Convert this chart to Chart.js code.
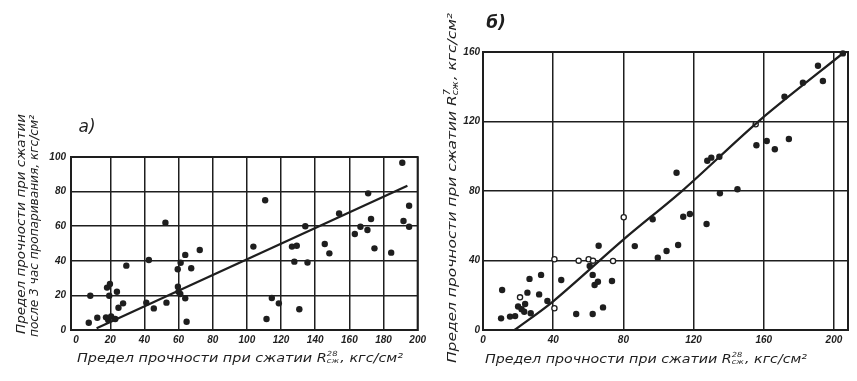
<!DOCTYPE html>
<html><head><meta charset="utf-8">
<script src="https://cdn.jsdelivr.net/npm/chart.js@4/dist/chart.umd.min.js"></script>
<style>
html,body{margin:0;padding:0;background:#fff;}
#wrap{position:relative;width:857px;height:381px;overflow:hidden;}
canvas{position:absolute;top:0;}
</style></head>
<body><div id="wrap">
<canvas id="ca" width="430" height="381" style="left:0;width:430px;height:381px"></canvas>
<canvas id="cb" width="427" height="381" style="left:430px;width:427px;height:381px"></canvas>
</div>
<script>
// ---- Panel a) data ----
const aX = [8.3,7.4,12.4,17.5,18.8,20.5,22.9,18.1,19.8,19.4,23.9,24.8,27.5,29.4,41.1,42.6,45.5,52.3,52.9,59.5,61.2,63.9,67.4,72.4,59.6,60,61,63.9,64.7,103.8,110.7,111.5,114.6,118.7,126.4,129.2,127.8,130.7,134.2,135.5,145.6,148.3,154,163.2,166.5,170.6,171,172.7,174.7,184.5,191,191.7,195,195];
const aY = [19.8,4.2,7.1,7.3,5.8,7.8,6.4,24.5,26.6,19.8,22.1,12.9,15.4,37.2,15.8,40.5,12.5,62,15.8,35.1,38.9,43.4,35.7,46.2,25,22.1,20.8,18.3,4.8,48.2,75,6.4,18.5,15.4,48.2,48.7,39.5,12,60,39,49.7,44.3,67.4,55.5,59.7,57.8,79,64.2,47.2,44.7,96.7,63,71.8,59.7];
const aLineX = [12, 194];
const aLineY = [1, 83.4];
const aXTicks = [0,20,40,60,80,100,120,140,160,180,200];
const aYTicks = [0,20,40,60,80,100];

// ---- Panel б) data ----
const bX = [10.9,10.3,15.4,18.3,25.3,26.5,33.1,32,36.7,27.2,22,24,23.5,20,44.6,53.1,60.8,62.5,62.5,63.6,65.5,65.9,68.4,73.5,86.5,96.7,99.6,104.6,110.3,111.2,114.1,117.9,127.4,127.8,130.1,134.7,135,145,155.8,161.7,166.3,174.3,171.8,182.3,190.9,193.7,193.7,205.1];
const bY = [23,6.7,7.7,8,21.5,29.4,31.7,20.5,16.7,9.6,12,15,10.5,13.5,28.8,9.2,36.8,31.7,9.2,25.9,27.8,48.5,13,28.2,48.3,63.7,41.6,45.5,90.5,48.9,65.2,66.8,61,97.4,99.2,99.7,78.7,81,106.3,108.8,104,109.9,134.3,142.3,152.1,163,143.3,159.2];
const bOpenX = [21.1,40.7,40.7,54.5,60.2,62.7,74.1,80.2,155.4];
const bOpenY = [18.8,12.5,40.7,39.9,40.7,39.9,39.7,64.9,118.4];
const bLineX = [18, 40, 80, 114.5, 158, 206];
const bLineY = [0, 16.5, 52, 81, 121, 160];
const bXTicks = [0,40,80,120,160,200];
const bYTicks = [0,40,80,120,160];

const INK = '#1e1e1e';
const tickFont = {family:'"Liberation Sans"', size:10, style:'italic', weight:'bold'};
const toPts = (xs, ys) => xs.map((x,i)=>({x, y:ys[i]}));

function drawText(ctx, parts, cx, cy, width, rotate, size, weight){
  ctx.save();
  ctx.translate(cx, cy);
  if (rotate) ctx.rotate(-Math.PI/2);
  const main = `italic ${weight||'normal'} ${size}px "DejaVu Sans"`;
  const small = `italic ${Math.round(size*0.62)}px "DejaVu Sans"`;
  let total = 0; const ws = [];
  for (const p of parts){
    let w;
    if (typeof p === 'string'){ ctx.font = main; w = ctx.measureText(p).width; }
    else { ctx.font = small; w = Math.max(ctx.measureText(p.sup).width, ctx.measureText(p.sub).width) + 1; }
    ws.push(w); total += w;
  }
  const k = width ? width/total : 1;
  ctx.scale(k, 1);
  ctx.fillStyle = INK; ctx.textBaseline = 'middle'; ctx.textAlign = 'left';
  let x = -total/2;
  parts.forEach((p,i)=>{
    if (typeof p === 'string'){ ctx.font = main; ctx.fillText(p, x, 0); }
    else { ctx.font = small; ctx.fillText(p.sup, x, -size*0.42); ctx.fillText(p.sub, x, size*0.22); }
    x += ws[i];
  });
  ctx.restore();
}

function makeChart(id, cfg){
  const labelPlugin = {
    id: 'labels'+id,
    afterDraw(chart){
      const ctx = chart.ctx, a = chart.chartArea;
      ctx.save();
      ctx.strokeStyle = INK; ctx.lineWidth = 2;
      ctx.strokeRect(a.left, a.top, a.right-a.left, a.bottom-a.top);
      ctx.restore();
      cfg.texts.forEach(t => drawText(ctx, t.parts, t.x, t.y, t.w, t.rot, t.size, t.weight));
    }
  };
  return new Chart(document.getElementById(id), {
    type: 'scatter',
    data: { datasets: cfg.datasets },
    options: {
      responsive: false, animation: false, devicePixelRatio: 1,
      layout: { padding: cfg.padding },
      plugins: { legend: {display:false}, tooltip: {enabled:false} },
      scales: {
        x: {
          type: 'linear', min: cfg.xMin, max: cfg.xMax,
          afterFit: s => { s.height = cfg.xH; },
          afterBuildTicks: s => { s.ticks = cfg.xTicks.map(v=>({value:v})); },
          ticks: { font: tickFont, color: INK, padding: 4, maxRotation: 0, autoSkip: false },
          grid: { drawTicks: false, lineWidth: 1.5,
                  color: c => (c.tick && c.tick.value === 0 && cfg.hideX0) ? 'rgba(0,0,0,0)' : INK },
          border: { display: true, color: INK, width: 2 }
        },
        y: {
          type: 'linear', min: cfg.yMin, max: cfg.yMax,
          afterFit: s => { s.width = cfg.yW; },
          afterBuildTicks: s => { s.ticks = cfg.yTicks.map(v=>({value:v})); },
          ticks: { font: tickFont, color: INK, padding: cfg.yPad, autoSkip: false },
          grid: { drawTicks: false, lineWidth: 1.5, color: INK },
          border: { display: true, color: INK, width: 2 }
        }
      }
    },
    plugins: [labelPlugin]
  });
}

const xTitleParts = ['Предел прочности при сжатии R', {sup:'28', sub:'сж'}, ', кгс/см²'];

makeChart('ca', {
  padding: {left:0, top:157, right:8, bottom:0},
  xMin: -3, xMax: 200, yMin: 0, yMax: 100, xH: 51, yW: 71, yPad: 5, hideX0: true,
  xTicks: aXTicks, yTicks: aYTicks,
  datasets: [
    { type:'line', data: toPts(aLineX, aLineY), borderColor: INK, borderWidth: 2.3, pointRadius: 0, fill: false, tension: 0 },
    { data: toPts(aX, aY), backgroundColor: INK, borderWidth: 0, pointRadius: 3.2, clip: false }
  ],
  texts: [
    { parts: xTitleParts, x: 240, y: 359, w: 326, size: 12 },
    { parts: ['Предел прочности при сжатии'], x: 22, y: 224, w: 220, rot: true, size: 12 },
    { parts: ['после 3 час пропаривания, кгс/см²'], x: 35, y: 226, w: 222, rot: true, size: 12 },
    { parts: ['a)'], x: 87, y: 128, w: 0, size: 17 }
  ]
});

makeChart('cb', {
  padding: {left:0, top:52, right:9, bottom:0},
  xMin: 0, xMax: 208, yMin: 0, yMax: 160, xH: 51, yW: 53, yPad: 3, hideX0: false,
  xTicks: bXTicks, yTicks: bYTicks,
  datasets: [
    { type:'line', data: toPts(bLineX, bLineY), borderColor: INK, borderWidth: 2.3, pointRadius: 0, fill: false, tension: 0.3 },
    { data: toPts(bX, bY), backgroundColor: INK, borderWidth: 0, pointRadius: 3.2, clip: false },
    { data: toPts(bOpenX, bOpenY), backgroundColor: '#fff', borderColor: INK, borderWidth: 1.3, pointRadius: 2.6, clip: false }
  ],
  texts: [
    { parts: xTitleParts, x: 216, y: 360, w: 322, size: 12 },
    { parts: ['Предел прочности при сжатии R', {sup:'7', sub:'сж'}, ', кгс/см²'], x: 23, y: 188, w: 350, rot: true, size: 13 },
    { parts: ['б)'], x: 66, y: 24, w: 0, size: 17, weight: 'bold' }
  ]
});
</script>
</body></html>
